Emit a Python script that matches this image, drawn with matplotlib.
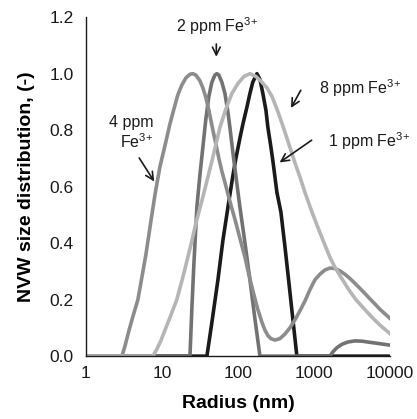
import matplotlib
matplotlib.use("Agg")
import matplotlib.pyplot as plt
from matplotlib.ticker import FixedLocator, NullLocator

plt.rcParams['font.family'] = ['Liberation Sans', 'DejaVu Sans']
plt.rcParams['mathtext.fontset'] = 'custom'
plt.rcParams['mathtext.rm'] = 'Liberation Sans'

# radius (nm) and normalised NVW size distribution
r_1ppm = [1, 39.1, 45.5, 54.6, 63.5, 76.2, 86, 94.1, 106, 116, 131, 144, 157, 178, 195,
          213, 234, 248, 272, 289, 307, 326, 368, 415, 469, 529, 597, 10000]
v_1ppm = [0, 0, 0.12, 0.27, 0.41, 0.55, 0.64, 0.7, 0.77, 0.82, 0.88, 0.93, 0.97, 1.0, 0.98,
          0.93, 0.87, 0.81, 0.74, 0.69, 0.635, 0.58, 0.51, 0.39, 0.26, 0.13, 0, 0]

r_2ppm = [1, 23.4, 24.8, 26.4, 28.9, 31.6, 34.6, 37.9, 41.5, 45.5, 49.8, 52.9, 56.2, 61.5,
          67.5, 73.8, 78.5, 86, 97, 106, 124, 144, 167, 195, 1624, 1778, 2009, 2335, 2801,
          3462, 4285, 5140, 6950, 10000]
v_2ppm = [0, 0, 0.17, 0.33, 0.53, 0.64, 0.74, 0.84, 0.92, 0.97, 0.995, 1.0, 0.995, 0.97,
          0.93, 0.865, 0.81, 0.72, 0.61, 0.53, 0.4, 0.27, 0.135, 0, 0, 0.015, 0.03, 0.042, 0.05,
          0.054, 0.053, 0.05, 0.045, 0.039]

r_4ppm = [1, 2.98, 3.26, 3.68, 4.15, 4.83, 5.46, 6.16, 6.74, 7.38, 8.09, 8.59, 9.41, 10.0,
          11.3, 12.7, 14.4, 16.2, 18.3, 20.7, 23.4, 25.6, 28.0, 31.6, 34.6, 37.9, 41.5, 46.9,
          51.4, 56.2, 61.5, 67.5, 73.8, 80.9, 91.3, 100, 113, 124, 135, 148, 167, 183, 207,
          227, 248, 272, 307, 357, 415, 483, 562, 654, 762, 886, 1031, 1199, 1396, 1624, 1890,
          2198, 2558, 2977, 3462, 4029, 4688, 5455, 6348, 7386, 8595, 10000]
v_4ppm = [0, 0, 0.035, 0.09, 0.14, 0.2, 0.28, 0.36, 0.43, 0.5, 0.57, 0.61, 0.67, 0.7,
          0.76, 0.82, 0.875, 0.925, 0.96, 0.985, 0.998, 1.0, 0.995, 0.975, 0.95, 0.915, 0.87, 0.8,
          0.75, 0.70, 0.655, 0.615, 0.575, 0.535, 0.485, 0.445, 0.39, 0.35, 0.305, 0.26, 0.205,
          0.165, 0.12, 0.092, 0.073, 0.062, 0.057, 0.062, 0.078, 0.1, 0.128, 0.16, 0.195, 0.235,
          0.27, 0.29, 0.305, 0.312, 0.31, 0.302, 0.29, 0.275, 0.258, 0.24, 0.222, 0.203, 0.185,
          0.166, 0.15, 0.134]

r_8ppm = [1, 7.61, 8.59, 9.7, 10.9, 12.7, 15.7, 18.9, 23.4, 28.0, 33.6, 39.1, 45.5, 51.4,
          58.0, 69.5, 83.4, 100, 120, 144, 173, 207, 241, 280, 326, 391, 469, 562, 654, 762,
          914, 1094, 1274, 1439, 1624, 1890, 2265, 2801, 3570, 4688, 5797, 7386, 8595, 10000]
v_8ppm = [0, 0, 0.025, 0.055, 0.09, 0.135, 0.2, 0.28, 0.38, 0.47, 0.55, 0.62, 0.69, 0.75,
          0.81, 0.875, 0.93, 0.965, 0.99, 1.0, 0.99, 0.97, 0.95, 0.92, 0.875, 0.815, 0.75, 0.685,
          0.635, 0.58, 0.52, 0.465, 0.42, 0.385, 0.35, 0.315, 0.28, 0.24, 0.2, 0.165, 0.138,
          0.11, 0.095, 0.08]

fig = plt.figure(figsize=(4.17, 4.19), dpi=100)
ax = fig.add_axes([0.206, 0.150, 0.729, 0.809])

lw = 2.6
ax.plot(r_1ppm, v_1ppm, color='#1a1a1a', lw=lw, solid_joinstyle='round')
ax.plot(r_2ppm, v_2ppm, color='#727272', lw=lw, solid_joinstyle='round')
ax.plot(r_4ppm, v_4ppm, color='#8c8c8c', lw=lw, solid_joinstyle='round')
ax.plot(r_8ppm, v_8ppm, color='#b5b5b5', lw=lw, solid_joinstyle='round')

ax.set_xscale('log')
ax.set_xlim(1, 10000)
ax.set_ylim(0, 1.2)
ax.xaxis.set_major_locator(FixedLocator([1, 10, 100, 1000, 10000]))
ax.xaxis.set_minor_locator(NullLocator())
ax.set_xticklabels(['1', '10', '100', '1000', '10000'])
ax.set_yticks([0, 0.2, 0.4, 0.6, 0.8, 1.0, 1.2])
ax.set_yticklabels(['0.0', '0.2', '0.4', '0.6', '0.8', '1.0', '1.2'])
ax.tick_params(axis='both', length=0, labelsize=12.5, colors='#1a1a1a')
ax.tick_params(axis='y', pad=9)
ax.tick_params(axis='x', pad=7)
for s in ['top', 'right']:
    ax.spines[s].set_visible(False)
for s in ['left', 'bottom']:
    ax.spines[s].set_linewidth(1.0)
    ax.spines[s].set_color('#1a1a1a')

ax.set_xlabel('Radius (nm)', fontsize=14, fontweight='bold', labelpad=10)
ax.set_ylabel('NVW size distribution, (-)', fontsize=14, fontweight='bold', labelpad=10)

fe = r'Fe$^{3}$$^{+}$'
ap = dict(arrowstyle='->', color='#1a1a1a', lw=1.2, mutation_scale=14)
tkw = dict(fontsize=11.5, color='#1a1a1a')

ax.text(54, 1.17, '2 ppm ' + fe, ha='center', va='center', **tkw)
ax.annotate('', xy=(52, 1.05), xytext=(52, 1.115), arrowprops=ap)
ax.text(1150, 0.95, '8 ppm ' + fe, ha='left', va='center', **tkw)
ax.annotate('', xy=(480, 0.87), xytext=(700, 0.95), arrowprops=ap)
ax.text(1550, 0.76, '1 ppm ' + fe, ha='left', va='center', **tkw)
ax.annotate('', xy=(330, 0.68), xytext=(1000, 0.77), arrowprops=ap)
ax.text(7.8, 0.79, '4 ppm\n' + fe, ha='right', va='center', multialignment='right', **tkw)
ax.annotate('', xy=(8.3, 0.61), xytext=(4.8, 0.71), arrowprops=ap)

fig.savefig('out.png', dpi=100)
